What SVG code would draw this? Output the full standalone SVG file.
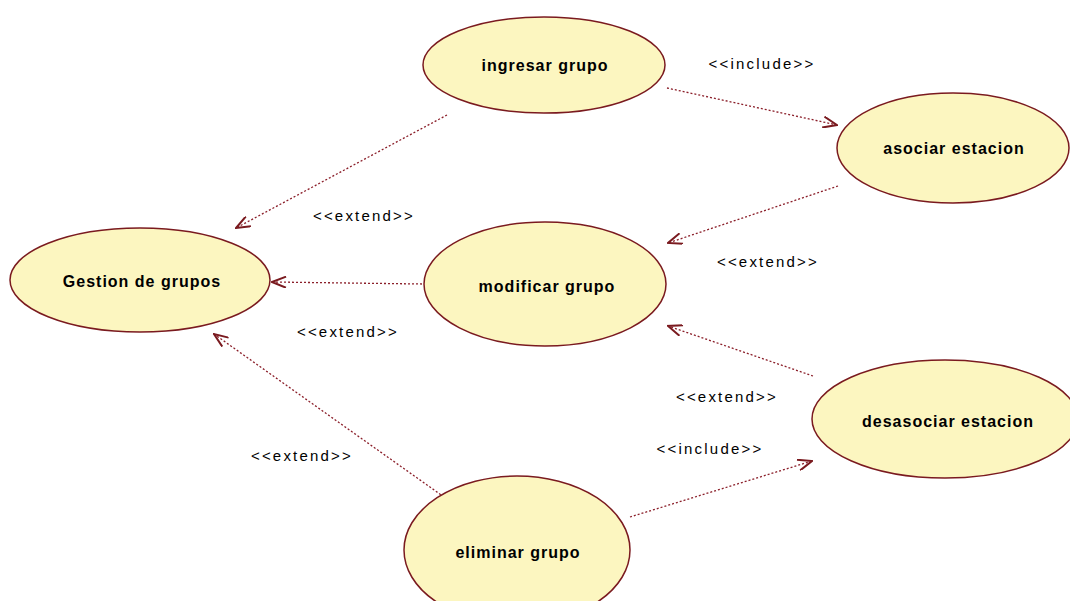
<svg xmlns="http://www.w3.org/2000/svg" width="1070" height="601" viewBox="0 0 1070 601">
<style>
.uc{fill:#fcf6c0;stroke:#7a1a1f;stroke-width:1.5}
.lbl{font-family:"Liberation Sans",Arial,sans-serif;font-size:16px;font-weight:bold;letter-spacing:1px;fill:#000;text-anchor:middle;dominant-baseline:central}
.st{font-family:"Liberation Sans",Arial,sans-serif;font-size:15px;fill:#000;text-anchor:middle;letter-spacing:2.2px;dominant-baseline:central}
.dep{fill:none;stroke:#8b1f2a;stroke-width:1.3;stroke-dasharray:2 2;marker-end:url(#arr)}
</style>
<defs>
<marker id="arr" viewBox="0 0 16 12" refX="15" refY="6" markerWidth="16" markerHeight="12" markerUnits="userSpaceOnUse" orient="auto">
<path d="M1,0.5 L15,6 L1,11.5" fill="none" stroke="#7a1a1f" stroke-width="2"/>
</marker>
</defs>
<rect width="1070" height="601" fill="#fff"/>
<g id="connectors">
<line class="dep" x1="447" y1="115" x2="236" y2="228"/>
<line class="dep" x1="667" y1="88" x2="837" y2="125"/>
<line class="dep" x1="838" y1="186" x2="668" y2="243"/>
<line class="dep" x1="422" y1="284" x2="272" y2="282"/>
<line class="dep" x1="813" y1="376" x2="668" y2="326"/>
<line class="dep" x1="444" y1="497" x2="214" y2="334"/>
<line class="dep" x1="630" y1="517" x2="812" y2="461"/>
<text class="st" x="762" y="63">&lt;&lt;include&gt;&gt;</text>
<text class="st" x="364" y="215">&lt;&lt;extend&gt;&gt;</text>
<text class="st" x="768" y="261">&lt;&lt;extend&gt;&gt;</text>
<text class="st" x="348" y="331">&lt;&lt;extend&gt;&gt;</text>
<text class="st" x="727" y="396">&lt;&lt;extend&gt;&gt;</text>
<text class="st" x="710" y="448">&lt;&lt;include&gt;&gt;</text>
<text class="st" x="302" y="455">&lt;&lt;extend&gt;&gt;</text>
</g>
<g id="ingresar">
<ellipse class="uc" cx="544" cy="65" rx="121" ry="48"/>
<text class="lbl" x="545" y="65">ingresar grupo</text>
</g>
<g id="asociar">
<ellipse class="uc" cx="953" cy="148" rx="116" ry="55"/>
<text class="lbl" x="954" y="148">asociar estacion</text>
</g>
<g id="gestion">
<ellipse class="uc" cx="140" cy="280" rx="130" ry="52"/>
<text class="lbl" x="142" y="281">Gestion de grupos</text>
</g>
<g id="modificar">
<ellipse class="uc" cx="545" cy="284" rx="121" ry="62"/>
<text class="lbl" x="547" y="286">modificar grupo</text>
</g>
<g id="desasociar">
<ellipse class="uc" cx="945" cy="419" rx="133" ry="59"/>
<text class="lbl" x="948" y="421">desasociar estacion</text>
</g>
<g id="eliminar">
<ellipse class="uc" cx="517" cy="550" rx="113" ry="74"/>
<text class="lbl" x="518" y="552">eliminar grupo</text>
</g>
</svg>
